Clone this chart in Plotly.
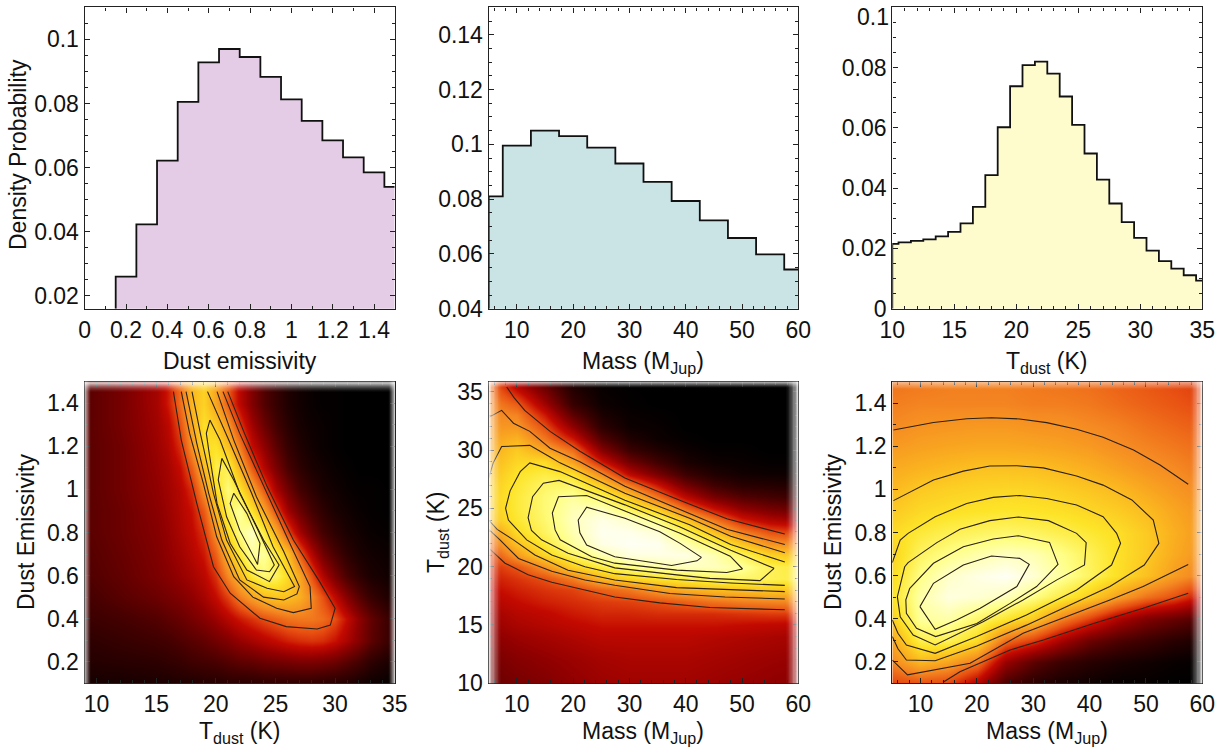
import plotly.graph_objects as go

# ---------- histograms ----------
emis_edges = [0.15, 0.25, 0.35, 0.45, 0.55, 0.65, 0.75, 0.85, 0.95, 1.05, 1.15, 1.25, 1.35, 1.45, 1.5]
emis_vals = [.026, .0423, .0622, .0805, .0928, .097, .0945, .0883, .0813, .0746, .0685, .0632, .0585, .054]
mass_edges = [5, 7.5, 12.5, 17.5, 22.5, 27.5, 32.5, 37.5, 42.5, 47.5, 52.5, 57.5, 60]
mass_vals = [.081, .0995, .105, .103, .0988, .093, .0863, .0793, .0722, .0658, .0598, .0543]
temp_edges = [10, 10.5, 11.5, 12.5, 13.5, 14.5, 15.5, 16.5, 17.5, 18.5, 19.5, 20.5, 21.5, 22.5, 23.5,
              24.5, 25.5, 26.5, 27.5, 28.5, 29.5, 30.5, 31.5, 32.5, 33.5, 34.5, 35]
temp_vals = [.0215, .022, .0225, .023, .024, .0255, .0283, .0338, .0443, .0602, .0738, .0808, .082, .078,
             .0704, .061, .0515, .0428, .0349, .0287, .0235, .0193, .0158, .0133, .0111, .0093]

# ---------- density grids (0 = black, 1 = white) ----------
bl_temp = [9, 12, 15, 16, 17, 18, 19, 20, 21, 22, 23, 24, 25, 26, 27, 28, 29, 30, 31, 32, 33, 35]
bl_emis = [1.5, 1.4, 1.3, 1.2, 1.1, 1.0, .9, .8, .7, .6, .5, .4, .3, .2, .1]
bl_z = [
 [.19,.25,.34,.42,.55,.7,.76,.66,.52,.38,.27,.18,.12,.07,.04,.02,.01,.01,0,0,0,0],
 [.19,.25,.34,.42,.55,.7,.76,.66,.52,.38,.27,.18,.12,.07,.04,.02,.01,.01,0,0,0,0],
 [.19,.25,.33,.38,.5,.67,.79,.74,.63,.47,.33,.23,.15,.09,.05,.03,.02,.01,0,0,0,0],
 [.19,.24,.32,.36,.45,.62,.78,.8,.72,.58,.4,.3,.2,.12,.07,.04,.02,.01,0,0,0,0],
 [.19,.24,.31,.34,.4,.53,.7,.84,.84,.68,.52,.37,.26,.16,.1,.06,.04,.02,.01,0,0,0],
 [.19,.24,.3,.33,.37,.45,.62,.78,.89,.8,.66,.52,.35,.24,.15,.1,.06,.04,.02,.01,.01,0],
 [.19,.23,.29,.32,.36,.41,.52,.7,.85,.92,.8,.66,.5,.33,.23,.15,.1,.06,.04,.02,.01,0],
 [.19,.23,.28,.31,.35,.39,.46,.62,.78,.9,.96,.83,.68,.5,.34,.23,.15,.1,.06,.04,.02,.01],
 [.18,.22,.27,.3,.33,.37,.42,.53,.7,.82,.92,.92,.83,.72,.52,.36,.24,.16,.1,.06,.04,.02],
 [.17,.21,.26,.28,.31,.34,.38,.46,.6,.71,.82,.88,.86,.78,.66,.5,.36,.25,.16,.1,.06,.03],
 [.15,.19,.23,.25,.27,.3,.34,.4,.48,.58,.65,.71,.73,.72,.68,.6,.5,.39,.28,.19,.12,.05],
 [.13,.15,.18,.2,.22,.25,.28,.32,.37,.42,.46,.5,.53,.56,.57,.57,.55,.5,.4,.3,.21,.1],
 [.1,.12,.14,.15,.17,.19,.21,.24,.27,.31,.34,.37,.4,.43,.45,.46,.45,.41,.35,.28,.2,.1],
 [.08,.09,.1,.11,.12,.14,.15,.16,.18,.2,.21,.23,.24,.25,.26,.26,.25,.23,.19,.15,.1,.05],
 [.05,.05,.06,.06,.07,.07,.08,.08,.09,.09,.09,.1,.1,.1,.1,.1,.09,.08,.07,.05,.03,.01],
]

bm_mass = [5, 10, 15, 20, 25, 30, 35, 40, 45, 50, 55, 60]
bm_temp = [10, 12, 14, 15, 16, 17, 18, 19, 20, 21, 22, 23, 24, 25, 26, 27, 28, 29, 30, 31, 32, 33, 34, 36]
bm_by_mass = [
 [.22,.25,.29,.31,.33,.36,.39,.42,.45,.48,.55,.61,.72,.74,.75,.74,.71,.69,.67,.65,.63,.61,.6,.55],
 [.25,.28,.32,.35,.37,.4,.43,.46,.51,.64,.72,.78,.81,.82,.82,.81,.8,.77,.74,.69,.63,.59,.52,.32],
 [.27,.3,.34,.37,.39,.43,.46,.5,.62,.77,.82,.86,.875,.88,.88,.865,.83,.78,.66,.57,.5,.42,.33,.18],
 [.3,.32,.36,.39,.42,.45,.48,.58,.76,.86,.92,.94,.95,.94,.92,.865,.79,.65,.55,.42,.3,.2,.12,.05],
 [.32,.34,.38,.41,.44,.47,.53,.7,.83,.94,.985,.995,.985,.95,.86,.74,.6,.42,.28,.18,.1,.06,.03,.01],
 [.33,.35,.38,.41,.44,.48,.57,.76,.9,.98,1,.99,.96,.85,.73,.57,.38,.24,.13,.07,.03,.02,.01,0],
 [.33,.35,.38,.41,.45,.5,.64,.8,.93,.985,.995,.97,.89,.74,.56,.41,.25,.14,.07,.03,.02,.01,0,0],
 [.33,.35,.38,.41,.45,.53,.68,.83,.95,.985,.94,.86,.73,.55,.38,.24,.13,.06,.03,.01,0,0,0,0],
 [.32,.34,.37,.41,.45,.56,.71,.86,.95,.94,.86,.72,.57,.41,.25,.14,.07,.03,.01,0,0,0,0,0],
 [.31,.33,.36,.4,.46,.58,.72,.87,.92,.86,.73,.58,.43,.3,.18,.09,.04,.02,.01,0,0,0,0,0],
 [.3,.32,.35,.39,.47,.59,.74,.85,.85,.76,.62,.5,.36,.25,.15,.08,.03,.01,0,0,0,0,0,0],
 [.29,.31,.34,.38,.47,.6,.73,.83,.82,.72,.6,.47,.33,.22,.13,.07,.03,.01,0,0,0,0,0,0],
]

br_mass = [5, 10, 15, 20, 25, 30, 35, 40, 45, 50, 55, 60]
br_emis = [1.5, 1.4, 1.3, 1.2, 1.1, 1.0, .9, .8, .7, .6, .5, .4, .3, .2, .1]
br_z = [
 [.56,.57,.58,.58,.58,.57,.56,.55,.53,.51,.49,.47],
 [.58,.59,.59,.59,.59,.58,.58,.57,.55,.53,.51,.49],
 [.60,.62,.625,.63,.63,.62,.615,.6,.585,.56,.54,.52],
 [.635,.65,.66,.665,.665,.66,.65,.635,.61,.59,.57,.55],
 [.67,.69,.705,.72,.72,.715,.70,.68,.65,.62,.60,.57],
 [.705,.74,.755,.765,.77,.765,.75,.73,.705,.665,.63,.6],
 [.74,.775,.79,.80,.805,.80,.79,.77,.745,.71,.66,.62],
 [.78,.82,.845,.86,.87,.86,.84,.815,.79,.74,.68,.63],
 [.76,.86,.90,.93,.95,.94,.90,.85,.795,.74,.67,.62],
 [.78,.90,.96,.985,1,.97,.92,.86,.79,.72,.64,.58],
 [.80,.93,.98,.97,.95,.90,.83,.75,.65,.56,.50,.40],
 [.75,.92,.93,.87,.81,.74,.59,.48,.36,.27,.22,.17],
 [.66,.84,.85,.78,.55,.47,.34,.23,.17,.13,.09,.06],
 [.60,.70,.66,.57,.32,.2,.13,.09,.06,.04,.02,.01],
 [.48,.50,.48,.36,.16,.09,.05,.03,.01,.01,0,0],
]

# ---------- contour lines: (x, y) in data units ----------
bl_contours = [
 [(16.44,1.454),(17.1,1.229),(18.4,.935),(19.8,.641),(21.2,.518),(23.7,.402),(25.9,.363),(28.5,.352),(29.6,.37),(30,.448),(28.7,.572),(26.5,.765),(24.3,1.013),(22.4,1.26),(21,1.454)],
 [(17.1,1.454),(17.8,1.26),(18.95,1.028),(20.07,.78),(21.5,.595),(23.1,.5),(25.1,.448),(26.5,.428),(28,.448),(27.9,.549),(26.2,.75),(24,1.013),(22,1.26),(20.6,1.454)],
 [(17.5,1.454),(18.4,1.214),(19.4,.982),(20.5,.765),(22,.58),(24,.5),(25.7,.487),(26.8,.515),(27,.549),(25.7,.711),(23.4,.966),(21.5,1.229),(20.1,1.454)],
 [(18,1.454),(18.7,1.26),(19.8,.982),(20.9,.765),(22.6,.58),(24.3,.541),(25.7,.525),(26.6,.549),(24.8,.734),(23,.982),(21.2,1.214),(19.3,1.454)],
 [(19.5,1.322),(19.2,1.26),(19.4,1.183),(20.1,.935),(21.2,.75),(22.6,.626),(24.5,.572),(25.3,.649),(24,.765),(22,.982),(20.35,1.229),(19.5,1.322)],
 [(20.5,1.144),(20.2,1.044),(20.9,.873),(22,.734),(23.4,.626),(24.5,.618),(24.9,.649),(23.4,.827),(21.5,1.044),(20.5,1.144)],
 [(21.5,.982),(21.2,.935),(22,.811),(23.5,.652),(23.7,.75),(22.6,.889),(21.5,.982)],
]
bm_contours = [
 [(8.2,35.4),(9.5,34.5),(11.4,33.4),(15.9,31.6),(21.2,29.9),(29.2,27.6),(38.4,25.8),(47.3,24.1),(57.6,22.8)],
 [(5.2,21.5),(7.9,20.3),(12,19.3),(16.2,18.66),(22.1,18),(27.4,17.4),(35.4,16.9),(44.3,16.5),(57.6,16.3)],
 [(5,32.8),(7.3,33.4),(9.4,32.3),(12.3,31.6),(15.9,30.15),(21.2,29),(29.2,26.9),(38.4,25),(47.3,23.2),(57.6,21.9)],
 [(5,23.2),(7,22.3),(10.3,20.7),(16.2,19.6),(22.1,18.86),(27.4,18.4),(37.2,17.7),(47,17.4),(57.6,17.23)],
 [(5,27.6),(5.8,28.9),(7.3,30.3),(12.3,30.4),(15.9,29.4),(17.66,28.9),(29.2,26.3),(40.7,24.15),(48,22.6),(57.6,21.2)],
 [(5,24),(6.5,23.2),(9.4,22.3),(13.2,21),(19.1,19.7),(27.4,18.86),(38.4,18.2),(48,18),(57.6,17.86)],
 [(57.6,20.4),(48,21.9),(40.7,23.6),(29.2,25.7),(17.66,28.15),(12.3,28.9),(10.6,28.15),(8.8,26.5),(8,25),(8.5,24),(11.75,22.3),(16.2,21),(22.1,20),(27.4,19.4),(38.4,18.9),(48,18.6),(57.6,18.4)],
 [(55.7,19.86),(48,21.4),(39,23.4),(29.2,25.3),(17.5,27.4),(14.7,27.15),(12.8,26),(12,24.2),(12.6,23.1),(14.4,22.3),(19.1,21.15),(27.4,19.9),(38.4,19.3),(44.3,19),(53.2,18.8),(55.7,19.86)],
 [(50.1,19.8),(47.9,20.9),(39,22.86),(29.2,24.8),(22.4,26.1),(17.4,26),(16.3,24.6),(16.8,23.15),(17.7,22.3),(23.3,20.85),(27.4,20.3),(38.4,19.7),(47.3,19.5),(50.1,19.8)],
 [(42.8,20.8),(39,22),(35.4,23),(29.2,24.15),(22.4,25.1),(20.9,24),(21.2,22.9),(22.4,21.86),(27.4,20.85),(32.5,20.5),(37.5,20.1),(42,20.5),(42.8,20.8)],
]
br_contours = [
 [(5.2,1.276),(12.3,1.311),(18.2,1.328),(22.6,1.333),(27.6,1.327),(32.4,1.31),(37.7,1.279),(42.4,1.242),(47.8,1.183),(52.5,1.113),(57.5,1.024)],
 [(57.5,.518),(49.5,.448),(40.7,.378),(31.8,.301),(25.9,.255),(17,.154),(14,.105)],
 [(57.5,.651),(49.5,.549),(43.6,.487),(36.5,.417),(28.2,.332),(18.8,.193),(12.6,.162),(7.7,.139),(5,.208)],
 [(5.2,.948),(12.3,1.044),(17.6,1.085),(22.3,1.109),(27.1,1.11),(31.8,1.1),(37.7,1.062),(42.4,1.02),(47.5,.951),(51.3,.858),(52.3,.75),(49.7,.649),(43.6,.549),(36.5,.463),(28.8,.37),(20,.273),(12.6,.205),(7.5,.208),(6,.26),(5,.317)],
 [(5,.66),(6.4,.765),(7.8,.796),(12.6,.873),(18.2,.935),(22.9,.963),(27.6,.972),(32.4,.958),(37.7,.928),(42.4,.873),(44.8,.796),(45.5,.75),(43.9,.649),(37.7,.533),(28.8,.417),(20,.317),(12.6,.239),(7.5,.278),(6,.332),(5,.394)],
 [(7.2,.641),(7.8,.66),(12.9,.753),(17,.815),(22.3,.855),(27.4,.872),(32.7,.855),(37.7,.796),(39.4,.753),(39.1,.649),(34.2,.58),(28.2,.487),(21.1,.386),(12.6,.278),(8.7,.324),(6.4,.409),(5.9,.502),(7.2,.641)],
 [(8.1,.541),(12.3,.657),(17.6,.734),(22.9,.77),(27.4,.785),(32.9,.754),(34.4,.652),(30.6,.549),(25.9,.471),(20,.378),(12.7,.317),(9.3,.355),(7.5,.425),(7.4,.487),(8.1,.541)],
 [(9.9,.456),(12.3,.564),(17.6,.649),(22.6,.691),(27.6,.68),(29.3,.652),(27.1,.549),(20.6,.448),(16.4,.394),(12.6,.351),(9.9,.456)],
]

# ---------- tick labels ----------
emis_ticks_top = [0, .2, .4, .6, .8, 1, 1.2, 1.4]
emis_ticktext_top = ["0", "0.2", "0.4", "0.6", "0.8", "1", "1.2", "1.4"]
emis_ticks = [.2, .4, .6, .8, 1, 1.2, 1.4]
emis_ticktext = ["0.2", "0.4", "0.6", "0.8", "1", "1.2", "1.4"]
mass_ticks = [10, 20, 30, 40, 50, 60]
temp_ticks_br = [10, 15, 20, 25, 30, 35]

FONT = "Liberation Sans"
INK = "#222222"
TEXT = "#111111"
hot = [[0, "#000000"], [.15, "#440000"], [.3, "#900000"], [.4, "#c40a00"], [.5, "#e85012"],
       [.6, "#f58a22"], [.7, "#fbb81f"], [.8, "#fde428"], [.9, "#ffff88"], [1, "#fffff5"]]

W, H = 1219, 747
COLS = [(84.7, 394.7), (488.7, 798.3), (892.3, 1202.3)]
ROWS = [(7.3, 308.7), (381.7, 683.3)]

fig = go.Figure()


def title(text, px, py, vertical=False):
    fig.add_annotation(text=text, xref="paper", yref="paper", x=px / W, y=1 - py / H, xanchor="center",
                       yanchor="middle", showarrow=False, textangle=-90 if vertical else 0,
                       font=dict(family=FONT, size=23, color=TEXT))


def set_axes(n, col, row, xr, yr, xt, xl, yt, yl, xm, ym):
    tick = dict(ticks="inside", ticklen=5, tickwidth=1, tickcolor=INK, showline=True, linecolor=INK, linewidth=1.4,
                mirror="allticks", showgrid=False, zeroline=False, automargin=False,
                tickfont=dict(family=FONT, size=23, color=TEXT), tickmode="array")
    sfx = "" if n == 1 else str(n)
    xa = dict(tick, domain=[COLS[col][0] / W, COLS[col][1] / W], range=xr, tickvals=xt, ticktext=xl,
              anchor="y" + sfx, ticklabelstandoff=0,
              minor=dict(ticks="inside", ticklen=3, tickwidth=1, tickcolor=INK, dtick=xm, tick0=0))
    ya = dict(tick, domain=[1 - ROWS[row][1] / H, 1 - ROWS[row][0] / H], range=yr, tickvals=yt, ticktext=yl,
              anchor="x" + sfx, ticklabelstandoff=0,
              minor=dict(ticks="inside", ticklen=3, tickwidth=1, tickcolor=INK, dtick=ym, tick0=0))
    fig.update_layout({"xaxis" + sfx: xa, "yaxis" + sfx: ya})


def add_hist(n, edges, vals, base, fill):
    xs, ys = [edges[0]], [base]
    for i, v in enumerate(vals):
        xs += [edges[i], edges[i + 1]]
        ys += [v, v]
    sfx = "" if n == 1 else str(n)
    fig.add_trace(go.Scatter(x=xs, y=ys, mode="lines", line=dict(color="#111111", width=1.8), fill="tozeroy",
                             fillcolor=fill, xaxis="x" + sfx, yaxis="y" + sfx, showlegend=False, hoverinfo="skip"))


def add_map(n, xs, ys, z, lines):
    fig.add_trace(go.Heatmap(x=xs, y=ys, z=z, colorscale=hot, zmin=0, zmax=1, zsmooth="best", showscale=False,
                             xaxis=f"x{n}", yaxis=f"y{n}", hoverinfo="skip"))
    for ln in lines:
        fig.add_trace(go.Scatter(x=[p[0] for p in ln], y=[p[1] for p in ln], mode="lines",
                                 line=dict(color="#2b2118", width=1.1), xaxis=f"x{n}", yaxis=f"y{n}",
                                 showlegend=False, hoverinfo="skip"))


def fade(col, row, side, depth, peak=0.85, steps=9):
    """White edge vignette drawn as thin translucent strips."""
    x0, x1 = COLS[col]
    y0, y1 = ROWS[row]
    for i in range(steps):
        a = peak * (1 - i / steps) ** 1.4
        d0, d1 = depth * i / steps, depth * (i + 1) / steps
        if side == "l":
            r = (x0 + d0, y0, x0 + d1, y1)
        elif side == "r":
            r = (x1 - d1, y0, x1 - d0, y1)
        else:
            r = (x0, y0 + d0, x1, y0 + d1)
        fig.add_shape(type="rect", xref="paper", yref="paper", x0=r[0] / W, x1=r[2] / W, y0=1 - r[1] / H, y1=1 - r[3] / H,
                      fillcolor="white", opacity=a, line_width=0, layer="above")


add_hist(1, emis_edges, emis_vals, 0.016, "#E4CCE6")
add_hist(2, mass_edges, mass_vals, 0.04, "#CAE4E6")
add_hist(3, temp_edges, temp_vals, 0, "#FEFBCD")
add_map(4, bl_temp, bl_emis, bl_z, bl_contours)
add_map(5, bm_mass, bm_temp, [list(r) for r in zip(*bm_by_mass)], bm_contours)
add_map(6, br_mass, br_emis, br_z, br_contours)

MJUP = "Mass (M<sub>Jup</sub>)"
TDUST = "T<sub>dust</sub> (K)"
set_axes(1, 0, 0, [0, 1.5], [.016, .11], emis_ticks_top, emis_ticktext_top, [.02, .04, .06, .08, .1],
         ["0.02", "0.04", "0.06", "0.08", "0.1"], .1, .005)
set_axes(2, 1, 0, [5, 60], [.04, .15], mass_ticks, [str(v) for v in mass_ticks], [.04, .06, .08, .1, .12, .14],
         ["0.04", "0.06", "0.08", "0.1", "0.12", "0.14"], 2, .005)
set_axes(3, 2, 0, [10, 35], [0, .1], temp_ticks_br, [str(v) for v in temp_ticks_br], [0, .02, .04, .06, .08],
         ["0", "0.02", "0.04", "0.06", "0.08"], 1, .005)
set_axes(4, 0, 1, [9, 35], [.1, 1.5], temp_ticks_br, [str(v) for v in temp_ticks_br], emis_ticks, emis_ticktext,
         1, .1)
set_axes(5, 1, 1, [5, 60], [10, 35.86], mass_ticks, [str(v) for v in mass_ticks], temp_ticks_br,
         [str(v) for v in temp_ticks_br], 2, 1)
set_axes(6, 2, 1, [5, 60], [.1, 1.5], mass_ticks, [str(v) for v in mass_ticks], emis_ticks, emis_ticktext,
         2, .1)

title("Dust emissivity", 240, 361)
title(MJUP, 643, 362)
title(TDUST, 1047, 362)
title(TDUST, 240, 732)
title(MJUP, 643, 732)
title(MJUP, 1047, 732)
title("Density Probability", 18, 155, True)
title("Dust Emissivity", 26, 532, True)
title(TDUST, 437, 532, True)
title("Dust Emissivity", 833, 532, True)

fig.add_annotation(text="0.1", xref="x3 domain", x=0, yref="y3", y=.0969, xanchor="right", xshift=-1, showarrow=False,
                   font=dict(family=FONT, size=23, color=TEXT))

fade(0, 1, "l", 6); fade(0, 1, "r", 6); fade(0, 1, "t", 10)
fade(1, 1, "l", 12); fade(1, 1, "r", 12); fade(1, 1, "t", 6)
fade(2, 1, "r", 12); fade(2, 1, "t", 8, peak=.6)

fig.update_layout(width=W, height=H, margin=dict(l=0, r=0, t=0, b=0, autoexpand=False), paper_bgcolor="white",
                  plot_bgcolor="white", showlegend=False)
fig.write_html("out.html", config={"displayModeBar": False},
               post_script="document.body.style.margin='0';document.body.style.overflow='hidden';")
